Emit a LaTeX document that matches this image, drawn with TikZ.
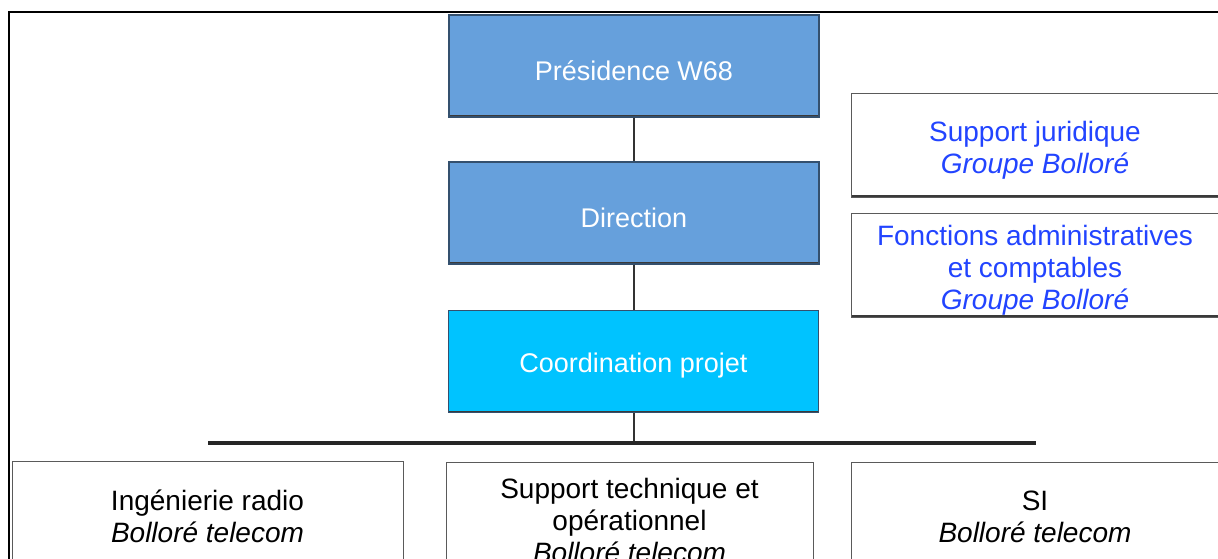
\documentclass[tikz,border=0pt]{standalone}
\usepackage{fontspec}
\setmainfont{Liberation Sans}
\definecolor{presblue}{HTML}{66A0DC}
\definecolor{coordcyan}{HTML}{00C3FF}
\definecolor{bordblue}{HTML}{34506E}
\definecolor{bordgray}{HTML}{5A5A5A}
\definecolor{shadowgray}{HTML}{3A3A3A}
\definecolor{bluetxt}{HTML}{2244FF}
\definecolor{conngray}{HTML}{333333}
\newcommand{\lowstrut}{\rule{0pt}{30pt}}
\begin{document}
\begin{tikzpicture}[x=1pt,y=-1pt,
  shadowedge/.style={path picture={\draw[line width=3.2pt, shadowgray]
      (path picture bounding box.south west) -- (path picture bounding box.south east);}},
  bluebox/.style={draw=bordblue, line width=1.3pt, fill=presblue, text=white,
      minimum width=370pt, minimum height=102pt, inner sep=0pt,
      font=\fontsize{27}{31}\selectfont, shadowedge,
      execute at begin node={\rule{0pt}{28.5pt}}},
  wbox/.style={draw=bordgray, line width=1pt, fill=white, inner sep=0pt, align=center,
      font=\fontsize{28}{32}\selectfont, shadowedge},
  conn/.style={draw=conngray, line width=2pt},
  bar/.style={draw=black!85, line width=3.5pt},
  frame/.style={draw=black, line width=2.6pt}
]
\useasboundingbox (0,0) rectangle (1218,559);
\clip (0,0) rectangle (1218,559);
\fill[white] (0,0) rectangle (1218,559);
\draw[frame] (9,12) rectangle (1240,600);

\node[bluebox] (pres) at (634,66) {Présidence W68};
\node[bluebox] (dir) at (634,213) {Direction};
\node[bluebox, fill=coordcyan] (coord) at (633.5,361.5) {Coordination projet};

\node[wbox, text=bluetxt, minimum width=368pt, minimum height=103pt] (jur) at (1035,145.5)
  {\lowstrut Support juridique\\\textit{Groupe Bolloré}};
\node[wbox, text=bluetxt, minimum width=368pt, minimum height=104pt] (adm) at (1035,265)
  {\lowstrut Fonctions administratives\\et comptables\\\textit{Groupe Bolloré}};

\node[wbox, minimum width=391pt, minimum height=110pt] (ing) at (207.5,516)
  {Ingénierie radio\\\textit{Bolloré telecom}};
\node[wbox, minimum width=367pt, minimum height=116pt] (sup) at (629.5,520)
  {Support technique et\\opérationnel\\\textit{Bolloré telecom}};
\node[wbox, minimum width=368pt, minimum height=110pt] (si) at (1035,517)
  {SI\\\textit{Bolloré telecom}};

\coordinate (barL) at (208,443);
\coordinate (barR) at (1036,443);
\draw[conn] (pres.south) -- (dir.north);
\draw[conn] (dir.south) -- (dir.south |- coord.north);
\draw[conn] (dir.south |- coord.south) -- (dir.south |- barL);
\draw[bar] (barL) -- (barR);
\end{tikzpicture}
\end{document}
